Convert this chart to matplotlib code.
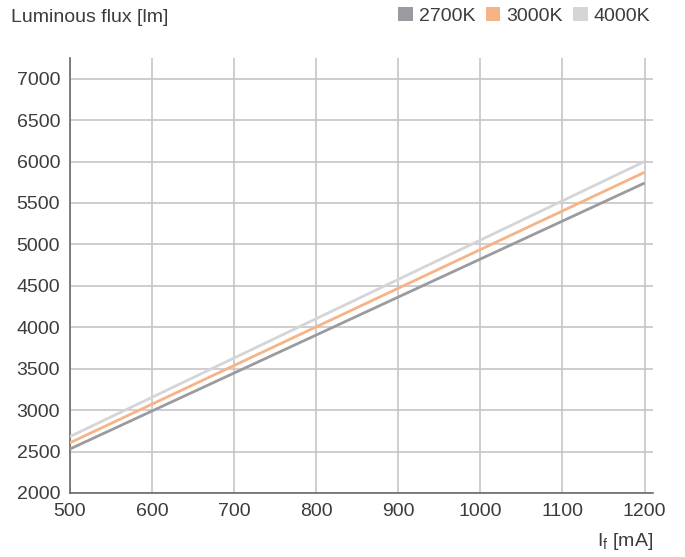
import matplotlib.pyplot as plt
from matplotlib.patches import Patch

plt.rcParams['font.family'] = ['Liberation Sans', 'DejaVu Sans']
plt.rcParams['mathtext.fontset'] = 'custom'
plt.rcParams['mathtext.rm'] = 'Liberation Sans'

current = [500, 1200]
flux_2700 = [2530, 5740]
flux_3000 = [2605, 5870]
flux_4000 = [2680, 6000]
series = [('2700K', flux_2700, '#9b9b9f'),
          ('3000K', flux_3000, '#f7b387'),
          ('4000K', flux_4000, '#d5d5d7')]
xticks = list(range(500, 1201, 100))
yticks = list(range(2000, 7001, 500))

txt = '#3c3c3c'
fig = plt.figure(figsize=(6.85, 5.57), dpi=100)
ax = fig.add_axes([0.102, 0.115, 0.851, 0.781])

for name, vals, col in series:
    ax.plot(current, vals, color=col, lw=2.0, solid_capstyle='butt', zorder=3)

ax.set_xlim(500, 1210)
ax.set_ylim(2000, 7250)
ax.set_xticks(xticks)
ax.set_yticks(yticks)
ax.grid(True, color='#c6c6c6', lw=1.2)
ax.tick_params(length=0, labelsize=14, colors=txt, pad=7)
for s in ['top', 'right']:
    ax.spines[s].set_visible(False)
for s in ['left', 'bottom']:
    ax.spines[s].set_color('#6a6a6a')
    ax.spines[s].set_linewidth(1.2)

fig.text(0.016, 0.968, 'Luminous flux [lm]', fontsize=14, color=txt, va='center')
fig.text(0.913, 0.028, r'I$_\mathregular{f}$ [mA]', fontsize=14, color=txt,
         ha='center', va='center')

handles = [Patch(facecolor=c, edgecolor='none', label=n) for n, v, c in series]
fig.legend(handles=handles, loc='center right', bbox_to_anchor=(0.975, 0.972),
           ncol=3, frameon=False, fontsize=14, handlelength=0.75, handleheight=0.75,
           handletextpad=0.3, columnspacing=0.55, labelcolor=txt)

fig.savefig('out.png', dpi=100)
